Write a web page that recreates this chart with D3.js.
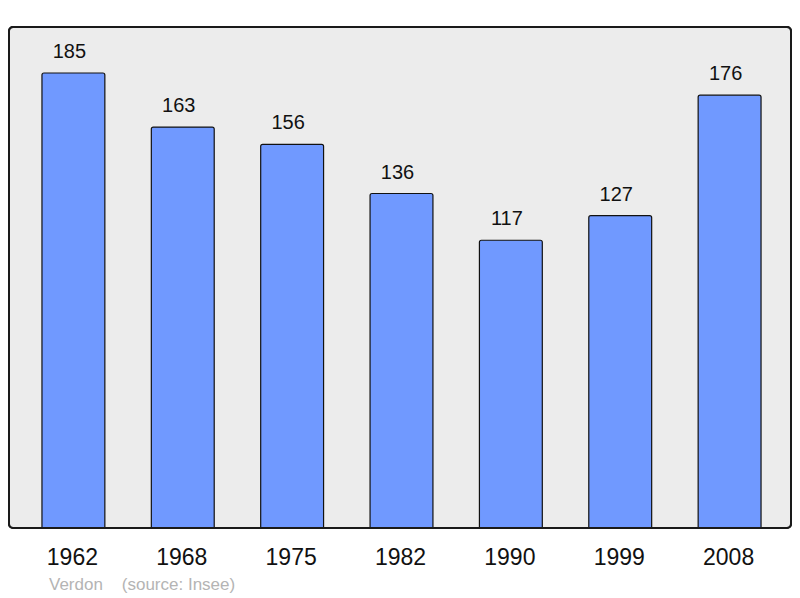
<!DOCTYPE html>
<html><head><meta charset="utf-8">
<script src="https://cdn.jsdelivr.net/npm/d3@7"></script>
<style>body{margin:0;background:#fff}</style>
</head><body>
<svg id="c" width="800" height="598"></svg>
<script>
const years = ["1962","1968","1975","1982","1990","1999","2008"];
const population = [185,163,156,136,117,127,176];
const footer = "Verdon    (source: Insee)";

const svg = d3.select("#c");
const font = "'Liberation Sans', Arial, sans-serif";

svg.append("rect").attr("x",9).attr("y",27).attr("width",782).attr("height",501)
  .attr("rx",4).attr("fill","#ececec").attr("stroke","#1a1a1a").attr("stroke-width",2);

const x = d3.scaleBand().domain(years).range([19,784]).paddingInner(0.425).paddingOuter(0.21);
const y = d3.scaleLinear().domain([0,185]).range([528,73]);

const g = svg.append("g");
g.selectAll("path.bar").data(years).join("path").attr("class","bar")
  .attr("d",(d,i)=>{
    const x0=x(d), w=x.bandwidth(), y0=y(population[i]), b=y(0), r=2;
    return `M${x0},${b}L${x0},${y0+r}Q${x0},${y0} ${x0+r},${y0}L${x0+w-r},${y0}Q${x0+w},${y0} ${x0+w},${y0+r}L${x0+w},${b}Z`;
  })
  .attr("fill","#7099ff").attr("stroke","#111").attr("stroke-width",1.2);

g.selectAll("text.val").data(years).join("text").attr("class","val")
  .attr("x",d=>x(d)+x.bandwidth()/2-4).attr("y",(d,i)=>y(population[i])-15)
  .attr("text-anchor","middle").attr("font-family",font).attr("font-size",20).attr("fill","#111")
  .text((d,i)=>population[i]);

svg.append("rect").attr("x",9).attr("y",27).attr("width",782).attr("height",501)
  .attr("rx",4).attr("fill","none").attr("stroke","#1a1a1a").attr("stroke-width",2);

const xAxis = d3.axisBottom(x).tickSize(0).tickPadding(0);
const ax = svg.append("g").attr("transform","translate(0,565)").call(xAxis);
ax.select(".domain").remove();
ax.selectAll("text").attr("font-family",font).attr("font-size",23).attr("fill","#111").attr("dy",0).attr("dx",-1);

svg.append("text").attr("x",49).attr("y",590).attr("font-family",font).attr("font-size",17)
  .attr("fill","#b4b4b4").attr("xml:space","preserve").style("white-space","pre").text(footer);
</script>
</body></html>
